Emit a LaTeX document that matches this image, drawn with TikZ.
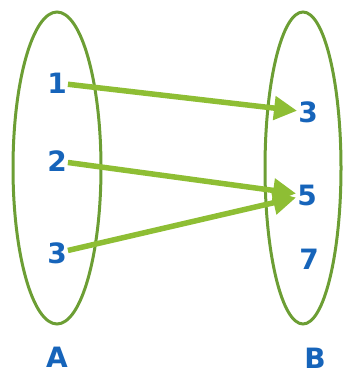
\documentclass[tikz,border=0pt]{standalone}
\usepackage{fontspec}
\newfontfamily\digitfont{DejaVu Sans}
\usepackage{tikz}
\usetikzlibrary{arrows.meta}

\definecolor{setgreen}{RGB}{108,158,52}
\definecolor{mapgreen}{RGB}{142,190,52}
\definecolor{elemblue}{RGB}{22,100,186}

\begin{document}
\begin{tikzpicture}[x=1pt, y=-1pt, >=Stealth,
    elem/.style={text=elemblue, font=\digitfont\bfseries\fontsize{28}{28}\selectfont, inner sep=1pt},
    setline/.style={draw=setgreen, line width=3pt},
    maparrow/.style={draw=mapgreen, line width=5.5pt, -{Triangle[length=23pt, width=23pt]}}]
        \useasboundingbox (0,0) rectangle (342,374);

        % The two sets
        \draw[setline] (57,168) ellipse [x radius=44, y radius=156];
        \draw[setline] (303,168) ellipse [x radius=38, y radius=156];

        % Elements of A
        \node[elem] (a1) at (57,83) {1};
        \node[elem] (a2) at (57,161) {2};
        \node[elem] (a3) at (57,253) {3};

        % Elements of B
        \node[elem] (b3) at (308,112) {3};
        \node[elem] (b5) at (307,195) {5};
        \node[elem] (b7) at (309,259) {7};

        % Set names
        \node[elem] (setA) at (57,357) {A};
        \node[elem] (setB) at (315,358) {B};

        % Mapping
        \draw[maparrow] (a1) -- (b3);
        \draw[maparrow] (a2) -- (b5);
        \draw[maparrow] (a3) -- (b5);
\end{tikzpicture}
\end{document}
